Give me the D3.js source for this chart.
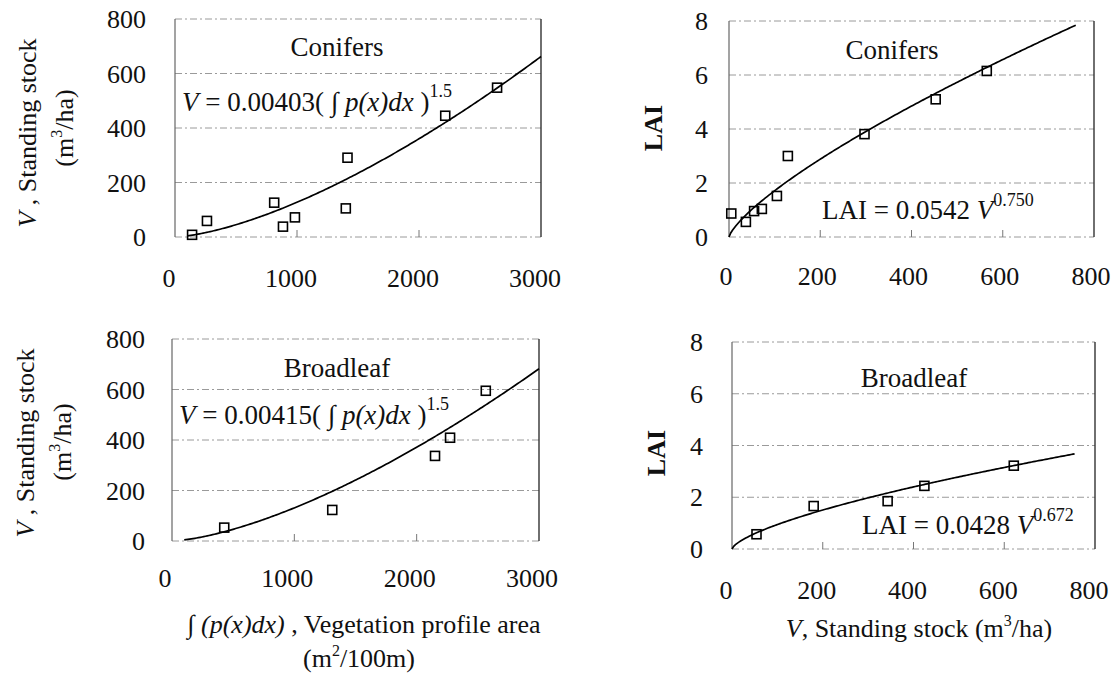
<!DOCTYPE html>
<html>
<head>
<meta charset="utf-8">
<script src="https://cdn.jsdelivr.net/npm/d3@7"></script>
<style>
  body { margin: 0; background: #fff; }
  svg text { font-family: "Liberation Serif", "Times New Roman", serif; fill: #111; white-space: pre; }
</style>
</head>
<body>
<svg id="chart" width="1115" height="675"></svg>
<script>
// Conifers: vegetation profile area vs standing stock
const conArea = [140, 262, 813, 885, 983, 1400, 1414, 2215, 2640];
const conStockA = [8, 59, 126, 38, 72, 105, 291, 445, 548];
// Conifers: standing stock vs LAI
const conStock = [5, 37, 55, 72, 105, 129, 297, 453, 565];
const conLai = [0.87, 0.56, 0.96, 1.04, 1.52, 3.0, 3.81, 5.1, 6.15];
// Broadleaf: vegetation profile area vs standing stock
const broArea = [427, 1310, 2150, 2273, 2565];
const broStockA = [53, 123, 337, 409, 595];
// Broadleaf: standing stock vs LAI
const broStock = [54, 180, 343, 424, 621];
const broLai = [0.57, 1.66, 1.85, 2.44, 3.22];

// fitted power curves y = a * x^b
const conAreaFit = { a: 0.00403, b: 1.5, from: 100, to: 3000 };
const conLaiFit = { a: 0.0542, b: 0.75, from: 0, to: 760 };
const broAreaFit = { a: 0.00415, b: 1.5, from: 100, to: 3000 };
const broLaiFit = { a: 0.0428, b: 0.672, from: 0, to: 755 };

const areaTicks = [0, 1000, 2000, 3000];
const stockTicks = [0, 200, 400, 600, 800];
const laiTicks = [0, 2, 4, 6, 8];

const svg = d3.select("#chart");

function drawPanel(p) {
  const x = d3.scaleLinear().domain(p.xDomain).range([p.left, p.right]);
  const y = d3.scaleLinear().domain(p.yDomain).range([p.bottom, p.top]);
  const g = svg.append("g");

  // grid lines
  g.selectAll(".grid")
    .data(p.yTicks)
    .join("line")
    .attr("x1", p.left)
    .attr("x2", p.right)
    .attr("y1", (d) => y(d))
    .attr("y2", (d) => y(d))
    .attr("stroke", "#9a9a9a")
    .attr("stroke-width", 1)
    .attr("stroke-dasharray", "7,3,2,3");

  // small inner ticks on bottom
  g.selectAll(".itick")
    .data(p.xTicks.slice(1, -1))
    .join("line")
    .attr("x1", (d) => x(d))
    .attr("x2", (d) => x(d))
    .attr("y1", p.bottom)
    .attr("y2", p.bottom - 7)
    .attr("stroke", "#777");

  // frame sides
  g.append("line")
    .attr("x1", p.left).attr("x2", p.left)
    .attr("y1", p.top).attr("y2", p.bottom)
    .attr("stroke", "#666").attr("stroke-width", 1.2);
  g.append("line")
    .attr("x1", p.right).attr("x2", p.right)
    .attr("y1", p.top).attr("y2", p.bottom)
    .attr("stroke", "#333").attr("stroke-width", 1.4);

  // tick labels
  g.selectAll(".ylab")
    .data(p.yTicks)
    .join("text")
    .attr("x", p.left - p.yLabGap)
    .attr("y", (d) => y(d))
    .attr("dy", "0.35em")
    .attr("text-anchor", "end")
    .attr("font-size", 26)
    .text((d) => d);
  g.selectAll(".xlab")
    .data(p.xTicks)
    .join("text")
    .attr("x", (d) => x(d) + p.xLabShift)
    .attr("y", p.bottom + p.xLabGap)
    .attr("dy", "0.35em")
    .attr("text-anchor", "middle")
    .attr("font-size", 26)
    .text((d) => d);

  // fitted curve
  const fit = p.fit;
  const curveX = d3.range(fit.from, fit.to + 1, (fit.to - fit.from) / 200);
  g.append("path")
    .attr("d", d3.line()
      .x((d) => x(d))
      .y((d) => y(fit.a * Math.pow(d, fit.b)))(curveX))
    .attr("fill", "none")
    .attr("stroke", "#000")
    .attr("stroke-width", 1.7);

  // points
  g.selectAll(".pt")
    .data(p.xs.map((d, i) => [d, p.ys[i]]))
    .join("rect")
    .attr("x", (d) => x(d[0]) - 4.5)
    .attr("y", (d) => y(d[1]) - 4.5)
    .attr("width", 9)
    .attr("height", 9)
    .attr("fill", "none")
    .attr("stroke", "#000")
    .attr("stroke-width", 1.6);

  // panel title
  g.append("text")
    .attr("x", p.titleX)
    .attr("y", p.titleY)
    .attr("dy", "0.35em")
    .attr("text-anchor", "middle")
    .attr("font-size", 27)
    .text(p.title);

  return g;
}

function areaEquation(g, xPos, yPos, coef) {
  const t = g.append("text").attr("x", xPos).attr("y", yPos).attr("font-size", 27);
  t.append("tspan").attr("font-style", "italic").text("V");
  t.append("tspan").text(" = " + coef + "( ");
  t.append("tspan").attr("font-style", "italic").text("\u222B");
  t.append("tspan").text(" ");
  t.append("tspan").attr("font-style", "italic").text("p(x)dx");
  t.append("tspan").text(" )");
  t.append("tspan").attr("font-size", 18).attr("dy", -14).text("1.5");
}

function laiEquation(g, xPos, yPos, coef, pow) {
  const t = g.append("text").attr("x", xPos).attr("y", yPos).attr("font-size", 27);
  t.append("tspan").text("LAI = " + coef + " ");
  t.append("tspan").attr("font-style", "italic").text("V");
  t.append("tspan").attr("font-size", 18).attr("dy", -13).text(pow);
}

function stockTitle(xPos, yPos, xPos2, yPos2) {
  const t1 = svg.append("text")
    .attr("transform", `translate(${xPos},${yPos}) rotate(-90)`)
    .attr("dy", "0.35em")
    .attr("text-anchor", "middle")
    .attr("font-size", 26);
  t1.append("tspan").attr("font-style", "italic").text("V");
  t1.append("tspan").text(" , Standing stock");
  const t2 = svg.append("text")
    .attr("transform", `translate(${xPos2},${yPos2}) rotate(-90)`)
    .attr("dy", "0.35em")
    .attr("text-anchor", "middle")
    .attr("font-size", 26);
  t2.append("tspan").text("(m");
  t2.append("tspan").attr("font-size", 16).attr("dy", -11).text("3");
  t2.append("tspan").attr("dy", 11).text("/ha)");
}

function laiTitle(xPos, yPos) {
  svg.append("text")
    .attr("transform", `translate(${xPos},${yPos}) rotate(-90)`)
    .attr("dy", "0.35em")
    .attr("text-anchor", "middle")
    .attr("font-size", 26)
    .attr("font-weight", "bold")
    .text("LAI");
}

// top-left
const p1 = drawPanel({
  left: 175, right: 541, top: 19, bottom: 237,
  xDomain: [0, 3000], yDomain: [0, 800],
  xTicks: areaTicks, yTicks: stockTicks,
  yLabGap: 29, xLabGap: 41, xLabShift: -6,
  xs: conArea, ys: conStockA, fit: conAreaFit,
  title: "Conifers", titleX: 337, titleY: 47
});
areaEquation(p1, 182, 111, "0.00403");
stockTitle(27, 133, 64, 128);

// top-right
const p2 = drawPanel({
  left: 729, right: 1094, top: 21, bottom: 237,
  xDomain: [0, 800], yDomain: [0, 8],
  xTicks: stockTicks, yTicks: laiTicks,
  yLabGap: 21, xLabGap: 39, xLabShift: -3,
  xs: conStock, ys: conLai, fit: conLaiFit,
  title: "Conifers", titleX: 892, titleY: 50
});
laiEquation(p2, 822, 219, "0.0542", "0.750");
laiTitle(653, 128);

// bottom-left
const p3 = drawPanel({
  left: 172, right: 539, top: 339, bottom: 541,
  xDomain: [0, 3000], yDomain: [0, 800],
  xTicks: areaTicks, yTicks: stockTicks,
  yLabGap: 27, xLabGap: 37, xLabShift: -7,
  xs: broArea, ys: broStockA, fit: broAreaFit,
  title: "Broadleaf", titleX: 337, titleY: 368
});
areaEquation(p3, 179, 424, "0.00415");
stockTitle(25, 443, 62, 442);

// bottom-right
const p4 = drawPanel({
  left: 732, right: 1095, top: 342, bottom: 549,
  xDomain: [0, 800], yDomain: [0, 8],
  xTicks: stockTicks, yTicks: laiTicks,
  yLabGap: 29, xLabGap: 41, xLabShift: -6,
  xs: broStock, ys: broLai, fit: broLaiFit,
  title: "Broadleaf", titleX: 914, titleY: 378
});
laiEquation(p4, 862, 534, "0.0428", "0.672");
laiTitle(656, 453);

// x axis titles
const xt1 = svg.append("text")
  .attr("x", 364).attr("y", 624).attr("dy", "0.35em")
  .attr("text-anchor", "middle").attr("font-size", 26);
xt1.append("tspan").attr("font-style", "italic").text("\u222B (p(x)dx)");
xt1.append("tspan").text(" , Vegetation profile area");

const xt2 = svg.append("text")
  .attr("x", 359).attr("y", 658).attr("dy", "0.35em")
  .attr("text-anchor", "middle").attr("font-size", 26);
xt2.append("tspan").text("(m");
xt2.append("tspan").attr("font-size", 16).attr("dy", -11).text("2");
xt2.append("tspan").attr("dy", 11).text("/100m)");

const xt3 = svg.append("text")
  .attr("x", 919).attr("y", 628).attr("dy", "0.35em")
  .attr("text-anchor", "middle").attr("font-size", 26);
xt3.append("tspan").attr("font-style", "italic").text("V");
xt3.append("tspan").text(", Standing stock (m");
xt3.append("tspan").attr("font-size", 16).attr("dy", -11).text("3");
xt3.append("tspan").attr("dy", 11).text("/ha)");
</script>
</body>
</html>
